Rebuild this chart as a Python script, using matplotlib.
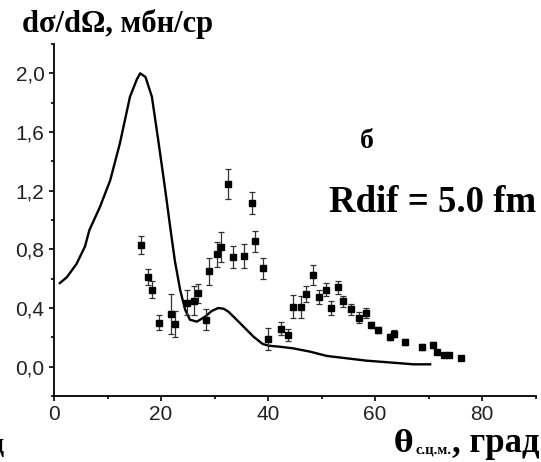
import matplotlib
matplotlib.use("Agg")
import matplotlib.pyplot as plt
from matplotlib.ticker import MultipleLocator, FuncFormatter

# Theory curve
theta_calc = [1.1, 2.4, 4.2, 5.8, 6.6, 8.6, 10.5, 12.3, 14.2, 15.5, 16.1, 17.1, 18.3,
              19.5, 20.7, 21.8, 22.6, 23.6, 24.5, 25.4, 26.7, 28.2, 29.5, 30.7, 31.7,
              32.6, 34.8, 37.3, 39.0, 40.1, 42.2, 44.7, 47.9, 51.0, 54.7, 58.4, 63.4,
              67.2, 70.3]
sigma_calc = [0.57, 0.61, 0.70, 0.82, 0.93, 1.09, 1.27, 1.52, 1.84, 1.96, 2.0, 1.975, 1.84,
              1.54, 1.23, 0.93, 0.72, 0.52, 0.39, 0.32, 0.307, 0.34, 0.38, 0.40, 0.395,
              0.375, 0.296, 0.204, 0.155, 0.143, 0.136, 0.125, 0.102, 0.073, 0.057, 0.041, 0.027,
              0.016, 0.016]

# Experimental points
theta_exp = [16.2, 17.5, 18.4, 19.7, 21.9, 22.7, 24.8, 26.2, 27.0, 28.4, 29.0, 30.5, 31.2,
             32.6, 33.5, 35.6, 37.0, 37.6, 39.0, 40.0, 42.4, 43.8, 44.7, 46.1, 47.1, 48.5,
             49.5, 50.8, 51.8, 53.1, 54.1, 55.5, 57.0, 58.3, 59.3, 60.5, 62.8, 63.5, 65.7,
             68.7, 70.9, 71.6, 72.9, 73.9, 76.0]
sigma_exp = [0.83, 0.61, 0.525, 0.30, 0.36, 0.29, 0.435, 0.45, 0.50, 0.32, 0.65, 0.765, 0.815,
             1.245, 0.745, 0.755, 1.115, 0.855, 0.67, 0.19, 0.26, 0.215, 0.41, 0.41, 0.495, 0.625,
             0.475, 0.525, 0.40, 0.54, 0.445, 0.39, 0.335, 0.365, 0.285, 0.25, 0.205, 0.225, 0.17,
             0.135, 0.148, 0.098, 0.08, 0.08, 0.06]
sigma_err = [0.06, 0.055, 0.06, 0.05, 0.135, 0.09, 0.085, 0.10, 0.065, 0.07, 0.09, 0.085, 0.10,
             0.105, 0.075, 0.08, 0.075, 0.07, 0.07, 0.075, 0.045, 0.04, 0.08, 0.075, 0.055, 0.07,
             0.05, 0.045, 0.045, 0.045, 0.04, 0.037, 0.035, 0.033, 0.02, 0.02, 0.02, 0.025, 0.02,
             0.02, 0.02, 0.015, 0.015, 0.015, 0.015]

x_major = [0, 20, 40, 60, 80]
y_major = [0.0, 0.4, 0.8, 1.2, 1.6, 2.0]

W, H = 541, 462
fig = plt.figure(figsize=(W / 100, H / 100), dpi=100)
ax = fig.add_axes([54 / W, (H - 396) / H, (535.5 - 54) / W, 352 / H])

ax.plot(theta_calc, sigma_calc, color="black", lw=1.7)
ax.errorbar(theta_exp, sigma_exp, yerr=sigma_err, fmt="s", color="black", ms=4.5,
            ecolor="#333333", elinewidth=0.9, capsize=2.5, capthick=0.9)

ax.set_xlim(0, 90)
ax.set_ylim(-0.2, 2.2)
ax.set_xticks(x_major)
ax.set_yticks(y_major)
ax.xaxis.set_minor_locator(MultipleLocator(10))
ax.yaxis.set_minor_locator(MultipleLocator(0.2))
ax.yaxis.set_major_formatter(FuncFormatter(lambda v, p: f"{v:.1f}".replace(".", ",")))
for s in ["top", "right"]:
    ax.spines[s].set_visible(False)
for s in ["left", "bottom"]:
    ax.spines[s].set_linewidth(1.3)
ax.tick_params(which="major", length=3.8, width=1.2, direction="out",
               labelsize=15, labelcolor="#222222", pad=3,
               labelfontfamily="Liberation Sans")
ax.tick_params(which="minor", length=2.2, width=1.2, direction="out")

serif = "Liberation Serif"
fig.text(22 / W, 1 - 32 / H, "dσ/dΩ, мбн/ср", fontsize=22, fontweight="bold",
         family=serif, ha="left", va="baseline")
fig.text(367 / W, 1 - 148 / H, "б", fontsize=20, fontweight="bold",
         family=serif, ha="center", va="baseline")
fig.text(536 / W, 1 - 212 / H, "Rdif = 5.0 fm", fontsize=26.5, fontweight="bold",
         family=serif, ha="right", va="baseline")

# x label: theta with subscript
fig.text(394 / W, 1 - 452 / H, "θ", fontsize=21, fontweight="bold",
         family="DejaVu Serif", ha="left", va="baseline")
fig.text(416 / W, 1 - 454 / H, "с.ц.м.", fontsize=10.5, fontweight="bold",
         family=serif, ha="left", va="baseline")
fig.text(540 / W, 1 - 452 / H, ", град", fontsize=25, fontweight="bold",
         family=serif, ha="right", va="baseline")
# fragment of neighbouring panel label
fig.text(-10 / W, 1 - 452 / H, "д", fontsize=20, fontweight="bold",
         family=serif, ha="left", va="baseline")

fig.savefig("out.png", dpi=100)
